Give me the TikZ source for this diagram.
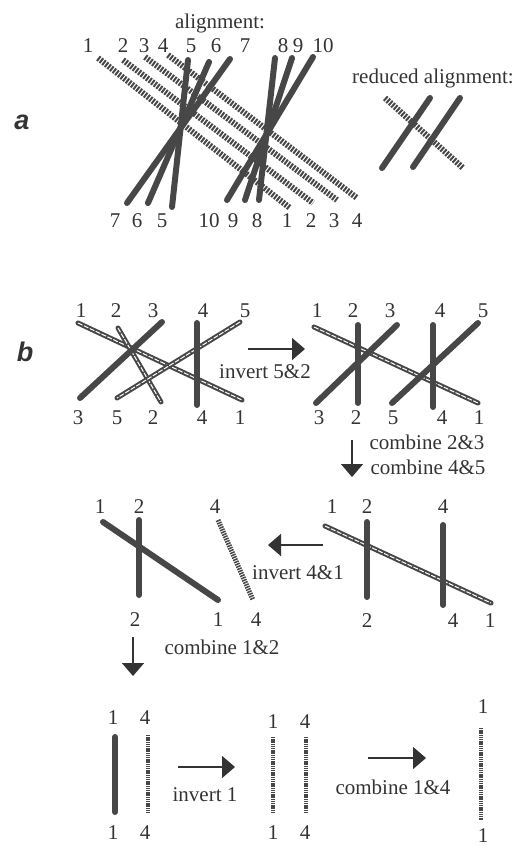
\documentclass[tikz,border=0pt]{standalone}
\usepackage{fontspec}
\setmainfont{Liberation Serif}
\newfontfamily\labserif{Liberation Serif}
\newfontfamily\panelfont{Liberation Sans}
\usetikzlibrary{arrows.meta}
\definecolor{ink}{HTML}{474747}
\definecolor{txt}{HTML}{333333}
\begin{document}
\begin{tikzpicture}[x=1pt,y=-1pt,
  solidl/.style={line width=6pt, draw=ink, line cap=round},
  hatch/.style={line width=6pt, draw=ink, dash pattern=on 2pt off 1.3pt},
  fhatch/.style={line width=5pt, draw=ink, dash pattern=on 1.5pt off 1pt},
  rope/.style={line width=5pt, draw=ink, line cap=round,
    postaction={draw=white, line width=1pt, line cap=butt, dash pattern=on 5pt off 1.5pt}},
  vdots/.style={line width=4.5pt, draw=ink, dash pattern=on 1.3pt off 0.9pt},
  lab/.style={text=txt, font=\labserif\fontsize{21}{24}\selectfont, inner sep=0pt},
  panel/.style={text=txt, font=\panelfont\bfseries\itshape\fontsize{27}{30}\selectfont, inner sep=0pt},
  arr/.style={draw=txt, line width=1.6pt, -{Triangle[length=13pt,width=22pt]}}
]
\useasboundingbox (0,0) rectangle (516,846);

% ---------------- part a ----------------
\node[panel] (pa) at (22,122) {a};
\node[lab] (atitle) at (220,23) {alignment:};
\foreach \n/\x in {1/88,2/123,3/144,4/163,5/191,6/216,7/245,8/283,9/298,10/323}
  \node[lab] (aT\n) at (\x,46) {\n};
\foreach \n/\x in {7/115,6/137,5/162,10/209,9/233,8/257,1/287,2/311,3/334,4/357}
  \node[lab] (aB\n) at (\x,221) {\n};

\coordinate (h1t) at (98,58);   \coordinate (h1b) at (290,208);
\coordinate (h2t) at (123,60);  \coordinate (h2b) at (313,203);
\coordinate (h3t) at (145,57);  \coordinate (h3b) at (337,200);
\coordinate (h4t) at (168,55);  \coordinate (h4b) at (357,198);
\foreach \i in {1,2,3,4} \draw[hatch] (h\i t) -- (h\i b);

\coordinate (s5t) at (188,60);  \coordinate (s5b) at (172,207);
\coordinate (s6t) at (209,62);  \coordinate (s6b) at (148,203);
\coordinate (s7t) at (230,59);  \coordinate (s7b) at (127,203);
\coordinate (s8t) at (275,58);  \coordinate (s8b) at (259,200);
\coordinate (s9t) at (292,58);  \coordinate (s9b) at (245,200);
\coordinate (s10t) at (313,57); \coordinate (s10b) at (227,200);
\foreach \i in {5,6,7,8,9,10} \draw[solidl] (s\i t) -- (s\i b);

% reduced alignment
\node[lab] (rtitle) at (433,78) {reduced alignment:};
\coordinate (rht) at (385,98);  \coordinate (rhb) at (463,168);
\coordinate (rs1t) at (430,98); \coordinate (rs1b) at (382,168);
\coordinate (rs2t) at (460,98); \coordinate (rs2b) at (413,167);
\draw[hatch] (rht) -- (rhb);
\draw[solidl] (rs1t) -- (rs1b);
\draw[solidl] (rs2t) -- (rs2b);

% ---------------- part b ----------------
\node[panel] (pb) at (25,352) {b};

% panel b1
\foreach \n/\x in {1/81,2/116,3/153,4/203,5/245}
  \node[lab] (bAT\n) at (\x,311) {\n};
\foreach \n/\x in {3/78,5/117,2/153,4/202,1/240}
  \node[lab] (bAB\n) at (\x,418) {\n};
\coordinate (b1r1t) at (78,323);  \coordinate (b1r1b) at (242,400);
\coordinate (b1r2t) at (118,328); \coordinate (b1r2b) at (161,402);
\coordinate (b1r5t) at (240,322); \coordinate (b1r5b) at (117,398);
\coordinate (b1s3t) at (162,322); \coordinate (b1s3b) at (80,398);
\coordinate (b1s4t) at (197,323); \coordinate (b1s4b) at (197,405);
\draw[rope] (b1r1t) -- (b1r1b);
\draw[rope] (b1r2t) -- (b1r2b);
\draw[rope] (b1r5t) -- (b1r5b);
\draw[solidl] (b1s3t) -- (b1s3b);
\draw[solidl] (b1s4t) -- (b1s4b);

\coordinate (ar1s) at (248,349); \coordinate (ar1e) at (305,349);
\draw[arr] (ar1s) -- (ar1e);
\node[lab] (inv52) at (265,372) {invert 5\&2};

% panel b2
\foreach \n/\x in {1/317,2/353,3/390,4/440,5/483}
  \node[lab] (bBT\n) at (\x,311) {\n};
\foreach \n/\x in {3/319,2/356,5/393,4/442,1/479}
  \node[lab] (bBB\n) at (\x,418) {\n};
\coordinate (b2r1t) at (314,327); \coordinate (b2r1b) at (478,403);
\coordinate (b2s2t) at (358,325); \coordinate (b2s2b) at (358,403);
\coordinate (b2s3t) at (397,325); \coordinate (b2s3b) at (316,403);
\coordinate (b2s4t) at (433,325); \coordinate (b2s4b) at (433,407);
\coordinate (b2s5t) at (478,323); \coordinate (b2s5b) at (392,403);
\draw[rope] (b2r1t) -- (b2r1b);
\foreach \i in {2,3,4,5} \draw[solidl] (b2s\i t) -- (b2s\i b);

\node[lab] (comb23) at (427,442) {combine 2\&3};
\node[lab] (comb45) at (428,467) {combine 4\&5};
\coordinate (ar2s) at (352,440); \coordinate (ar2e) at (352,477);
\draw[arr] (ar2s) -- (ar2e);

% panel b3 right
\foreach \n/\x in {1/332,2/367,4/443}
  \node[lab] (bCT\n) at (\x,507) {\n};
\foreach \n/\x in {2/367,4/453,1/490}
  \node[lab] (bCB\n) at (\x,621) {\n};
\coordinate (b3r1t) at (325,526); \coordinate (b3r1b) at (491,603);
\coordinate (b3s2t) at (367,522); \coordinate (b3s2b) at (367,597);
\coordinate (b3s4t) at (443,525); \coordinate (b3s4b) at (443,605);
\draw[rope] (b3r1t) -- (b3r1b);
\draw[solidl] (b3s2t) -- (b3s2b);
\draw[solidl] (b3s4t) -- (b3s4b);

\coordinate (ar3s) at (323,545); \coordinate (ar3e) at (268,545);
\draw[arr] (ar3s) -- (ar3e);
\node[lab] (inv41) at (298,573) {invert 4\&1};

% panel b3 left
\foreach \n/\x in {1/100,2/139,4/215}
  \node[lab] (bDT\n) at (\x,507) {\n};
\foreach \n/\x in {2/135,1/218,4/256}
  \node[lab] (bDB\n) at (\x,620) {\n};
\coordinate (b4s1t) at (103,522); \coordinate (b4s1b) at (218,600);
\coordinate (b4s2t) at (139,520); \coordinate (b4s2b) at (139,595);
\coordinate (b4h4t) at (218,520); \coordinate (b4h4b) at (253,600);
\draw[fhatch] (b4h4t) -- (b4h4b);
\draw[solidl] (b4s1t) -- (b4s1b);
\draw[solidl] (b4s2t) -- (b4s2b);

\node[lab] (comb12) at (222,647) {combine 1\&2};
\coordinate (ar4s) at (133,637); \coordinate (ar4e) at (133,676);
\draw[arr] (ar4s) -- (ar4e);

% bottom row, panel 1
\node[lab] (cT1) at (113,718) {1};
\node[lab] (cT4) at (145,718) {4};
\node[lab] (cB1) at (113,833) {1};
\node[lab] (cB4) at (145,833) {4};
\coordinate (c1t) at (115,737); \coordinate (c1b) at (115,812);
\coordinate (c4t) at (148,735); \coordinate (c4b) at (148,813);
\draw[solidl] (c1t) -- (c1b);
\draw[vdots] (c4t) -- (c4b);
\coordinate (ar5s) at (178,767); \coordinate (ar5e) at (235,767);
\draw[arr] (ar5s) -- (ar5e);
\node[lab] (inv1) at (205,795) {invert 1};

% bottom row, panel 2
\node[lab] (dT1) at (273,722) {1};
\node[lab] (dT4) at (305,722) {4};
\node[lab] (dB1) at (273,833) {1};
\node[lab] (dB4) at (305,833) {4};
\coordinate (d1t) at (273,737); \coordinate (d1b) at (273,813);
\coordinate (d4t) at (306,737); \coordinate (d4b) at (306,813);
\draw[vdots] (d1t) -- (d1b);
\draw[vdots] (d4t) -- (d4b);
\coordinate (ar6s) at (368,758); \coordinate (ar6e) at (426,758);
\draw[arr] (ar6s) -- (ar6e);
\node[lab] (comb14) at (393,787) {combine 1\&4};

% bottom row, panel 3
\node[lab] (eT1) at (483,707) {1};
\node[lab] (eB1) at (483,836) {1};
\coordinate (e1t) at (481,728); \coordinate (e1b) at (481,820);
\draw[vdots] (e1t) -- (e1b);
\end{tikzpicture}
\end{document}
